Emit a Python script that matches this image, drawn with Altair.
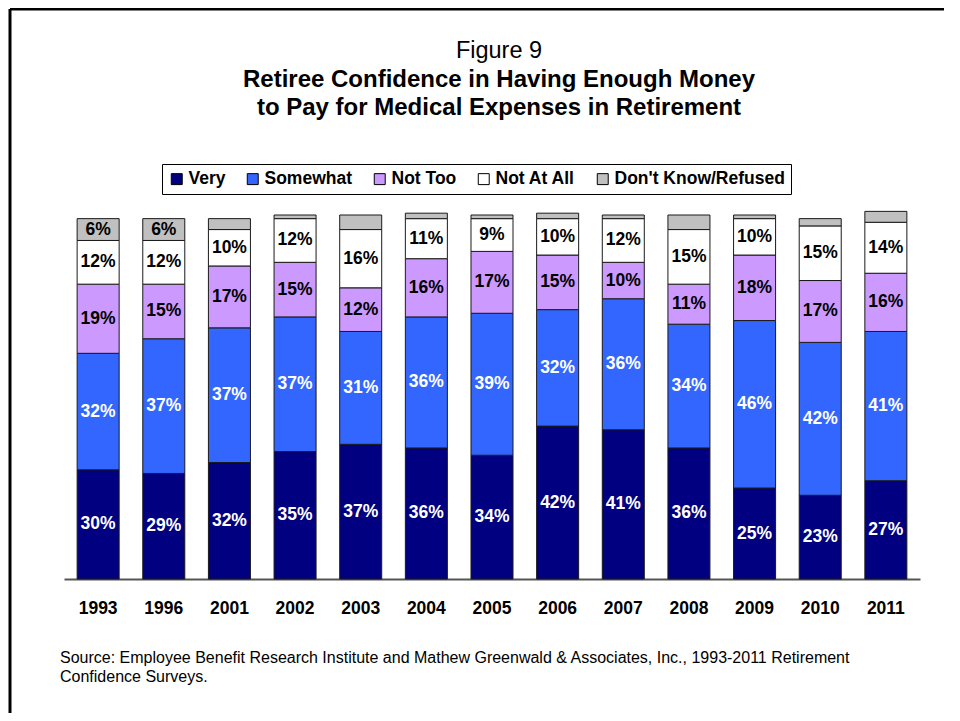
import altair as alt
import pandas as pd

FONT = "Liberation Sans, Arial, Helvetica, sans-serif"

years = ["1993", "1996", "2001", "2002", "2003", "2004", "2005",
         "2006", "2007", "2008", "2009", "2010", "2011"]
series = ["Very", "Somewhat", "Not Too", "Not At All", "Don't Know/Refused"]
colors = ["#000080", "#3366FF", "#CC99FF", "#FFFFFF", "#C0C0C0"]

very = [30, 29, 32, 35, 37, 36, 34, 42, 41, 36, 25, 23, 27]
somewhat = [32, 37, 37, 37, 31, 36, 39, 32, 36, 34, 46, 42, 41]
not_too = [19, 15, 17, 15, 12, 16, 17, 15, 10, 11, 18, 17, 16]
not_at_all = [12, 12, 10, 12, 16, 11, 9, 10, 12, 15, 10, 15, 14]
dont_know = [6, 6, 3, 1, 4, 1.5, 1, 1.5, 1, 4, 1, 2, 3]

values = [very, somewhat, not_too, not_at_all, dont_know]

rows = []
for i, yr in enumerate(years):
    cum = 0
    for j, s in enumerate(series):
        v = values[j][i]
        rows.append(dict(year=yr, series=s, idx=j, value=v, y0=cum, y1=cum + v,
                         mid=cum + v / 2,
                         label=(f"{v:g}%" if (j < 4 or v >= 5) else "")))
        cum += v
df = pd.DataFrame(rows)

x_enc = alt.X("year:N", sort=years, title=None,
              scale=alt.Scale(paddingInner=0.36, paddingOuter=0.2),
              axis=alt.Axis(labelFont=FONT, labelFontSize=17.5, labelFontWeight="bold",
                            labelColor="black", labelAngle=0, ticks=False, tickSize=0,
                            labelPadding=20, domainColor="#555555", domainWidth=2,
                            grid=False))
y_scale = alt.Scale(domain=[0, 100], nice=False, zero=True)

base = alt.Chart(df)

bars = base.mark_bar(stroke="#1a1a1a", strokeWidth=1).encode(
    x=x_enc,
    y=alt.Y("y0:Q", scale=y_scale, axis=None),
    y2="y1:Q",
    color=alt.Color("series:N", sort=series,
                    scale=alt.Scale(domain=series, range=colors),
                    legend=alt.Legend(title=None, orient="none", legendX=98, legendY=-51,
                                      direction="horizontal", columns=5,
                                      symbolType="square", symbolSize=120,
                                      symbolStrokeColor="black", symbolStrokeWidth=1,
                                      labelFont=FONT, labelFontSize=17.5, labelLimit=0,
                                      labelFontWeight="bold", labelColor="black",
                                      columnPadding=18, labelOffset=3, padding=6,
                                      strokeColor="black", fillColor="white")),
)

white_text = base.transform_filter("datum.idx < 2").mark_text(
    font=FONT, fontSize=17.5, fontWeight="bold", color="white", baseline="middle"
).encode(x=alt.X("year:N", sort=years), y=alt.Y("mid:Q", scale=y_scale), text="label:N")

black_text = base.transform_filter("datum.idx >= 2 && datum.label != ''").mark_text(
    font=FONT, fontSize=17.5, fontWeight="bold", color="black", baseline="middle"
).encode(x=alt.X("year:N", sort=years), y=alt.Y("mid:Q", scale=y_scale), text="label:N")

one = alt.Data(values=[{}])

def txt(s, x, y, size, weight="normal", align="center"):
    return alt.Chart(one).mark_text(font=FONT, fontSize=size, fontWeight=weight,
                                    align=align, baseline="alphabetic", color="black").encode(
        x=alt.value(x), y=alt.value(y), text=alt.value(s))

t0 = txt("Figure 9", 435, -157, 23.5)
t1 = txt("Retiree Confidence in Having Enough Money", 435, -128, 24, "bold")
t2 = txt("to Pay for Medical Expenses in Retirement", 435, -100, 24, "bold")
s1 = txt("Source:  Employee Benefit Research Institute and Mathew Greenwald & Associates, Inc., 1993-2011 Retirement",
         -4, 448, 16, align="left")
s2 = txt("Confidence Surveys.", -4, 467, 16, align="left")

frame_left = alt.Chart(one).mark_rule(color="black", strokeWidth=3).encode(
    x=alt.value(-54), y=alt.value(-206), y2=alt.value(520))
frame_top = alt.Chart(one).mark_rule(color="black", strokeWidth=3).encode(
    x=alt.value(-54), x2=alt.value(900), y=alt.value(-206))

chart = alt.layer(bars, white_text, black_text, t0, t1, t2, s1, s2,
                  frame_left, frame_top).properties(
    width=856, height=364,
    padding={"left": 56, "top": 207, "right": 24, "bottom": 134},
    autosize=alt.AutoSizeParams(type="none"),
).configure_view(stroke=None)

chart.save("out.html", embed_options={"renderer": "svg", "actions": False})
